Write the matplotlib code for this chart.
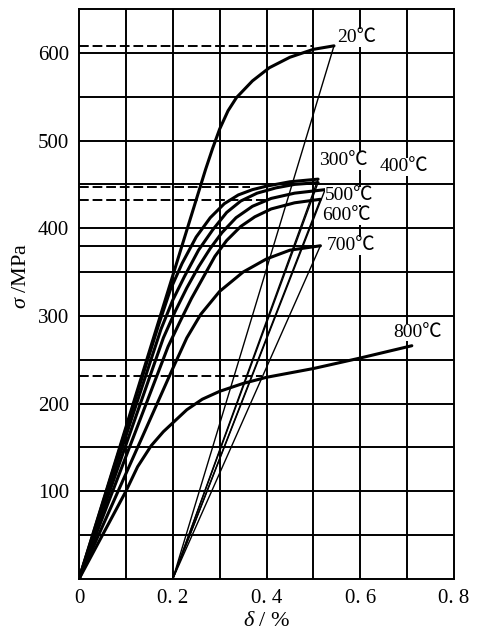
import matplotlib
matplotlib.use("Agg")
import matplotlib.pyplot as plt

plt.rcParams['mathtext.fontset'] = 'custom'
plt.rcParams['mathtext.rm'] = 'Liberation Serif'
plt.rcParams['mathtext.it'] = 'Liberation Serif:italic'

# ---- data ----
temps = ["20℃", "300℃", "400℃", "500℃", "600℃", "700℃", "800℃"]

strain_20 = [0, 0.27, 0.285, 0.30, 0.318, 0.336, 0.37, 0.406, 0.45, 0.50, 0.544]
stress_20 = [0, 467, 491, 513, 534, 549, 568, 583, 595, 604, 608]

strain_300 = [0, 0.17, 0.195, 0.22, 0.25, 0.28, 0.31, 0.34, 0.37, 0.40, 0.45, 0.51]
stress_300 = [0, 290, 330, 360, 390, 412, 428, 438, 444, 448, 453, 456]

strain_400 = [0, 0.175, 0.20, 0.225, 0.255, 0.285, 0.315, 0.345, 0.38, 0.42, 0.46, 0.51]
stress_400 = [0, 285, 318, 345, 375, 398, 418, 431, 440, 446, 450, 452]

strain_500 = [0, 0.18, 0.205, 0.23, 0.255, 0.28, 0.305, 0.335, 0.37, 0.41, 0.46, 0.525]
stress_500 = [0, 275, 305, 332, 356, 377, 395, 412, 425, 434, 440, 444]

strain_600 = [0, 0.19, 0.215, 0.24, 0.265, 0.29, 0.315, 0.345, 0.375, 0.41, 0.46, 0.515]
stress_600 = [0, 265, 293, 320, 344, 368, 386, 402, 413, 422, 429, 433]

strain_700 = [0, 0.20, 0.23, 0.26, 0.30, 0.35, 0.40, 0.45, 0.515]
stress_700 = [0, 240, 275, 302, 328, 350, 365, 375, 380]

strain_800 = [0, 0.10, 0.125, 0.154, 0.18, 0.20, 0.23, 0.263, 0.30, 0.35, 0.40, 0.50, 0.60, 0.71]
stress_800 = [0, 100, 128, 152, 168, 178, 193, 205, 214, 223, 230, 240, 252, 266]

# residual strain after unloading (all unloading lines end here)
residual_strain = 0.2

# dashed reference stress levels and their extent in strain
dash_levels = [608, 447, 432, 232]
dash_ends = [0.50, 0.365, 0.40, 0.39]
# solid yield line for 700 C
solid_level = 380
solid_end = 0.515

# label anchors
label_x = [0.55, 0.513, 0.642, 0.525, 0.518, 0.528, 0.67]
label_y = [617, 477, 470, 437, 414, 380, 281]

x_ticks = [0, 0.2, 0.4, 0.6, 0.8]
x_ticklabels = ["0", "0. 2", "0. 4", "0. 6", "0. 8"]
y_ticks = [100, 200, 300, 400, 500, 600]
y_ticklabels = ["100", "200", "300", "400", "500", "600"]

# ---- figure ----
fig = plt.figure(figsize=(4.8, 6.36), dpi=100)
ax = fig.add_axes([79/480, 1-579/636, (454-79)/480, (579-9)/636])
ax.set_xlim(0, 0.8)
ax.set_ylim(0, 650)

serif = ['Liberation Serif', 'Noto Sans CJK SC']

# grid
for gx in [i/10 for i in range(1, 8)]:
    ax.axvline(gx, color='black', lw=1.4, zorder=1)
for gy in range(50, 650, 50):
    ax.axhline(gy, color='black', lw=1.4, zorder=1)
for s in ax.spines.values():
    s.set_linewidth(1.4)

loads = [(strain_20, stress_20), (strain_300, stress_300), (strain_400, stress_400),
         (strain_500, stress_500), (strain_600, stress_600), (strain_700, stress_700),
         (strain_800, stress_800)]

for i, (sx, sy) in enumerate(loads):
    ax.plot(sx, sy, color='black', lw=2.2, solid_capstyle='round',
            solid_joinstyle='round', zorder=3)
    if i < 6:
        ax.plot([sx[-1], residual_strain], [sy[-1], 0], color='black', lw=1.0, zorder=2)

for lvl, xe in zip(dash_levels, dash_ends):
    ax.plot([0, xe], [lvl, lvl], color='black', lw=1.4, linestyle=(0, (5, 2)), zorder=2)
ax.plot([0, solid_end], [solid_level, solid_level], color='black', lw=1.4, zorder=2)

for t, lx, ly in zip(temps, label_x, label_y):
    ax.text(lx, ly, t, family=serif, fontsize=14, ha='left', va='center', zorder=4,
            bbox=dict(facecolor='white', edgecolor='none', pad=0.3))

ax.set_xticks(x_ticks)
ax.set_xticklabels(x_ticklabels, family=serif, fontsize=15)
ax.set_yticks(y_ticks)
ax.set_yticklabels(y_ticklabels, family=serif, fontsize=15)
ax.tick_params(length=0, pad=7)

ax.set_xlabel(r'$\delta$ / %', family=serif, fontsize=16, labelpad=3)
fig.text(22/480, 1-276/636, r'$\sigma$ /MPa', family=serif, fontsize=16,
         rotation=90, ha='center', va='center')

fig.savefig('out.png', dpi=100, facecolor='white')
